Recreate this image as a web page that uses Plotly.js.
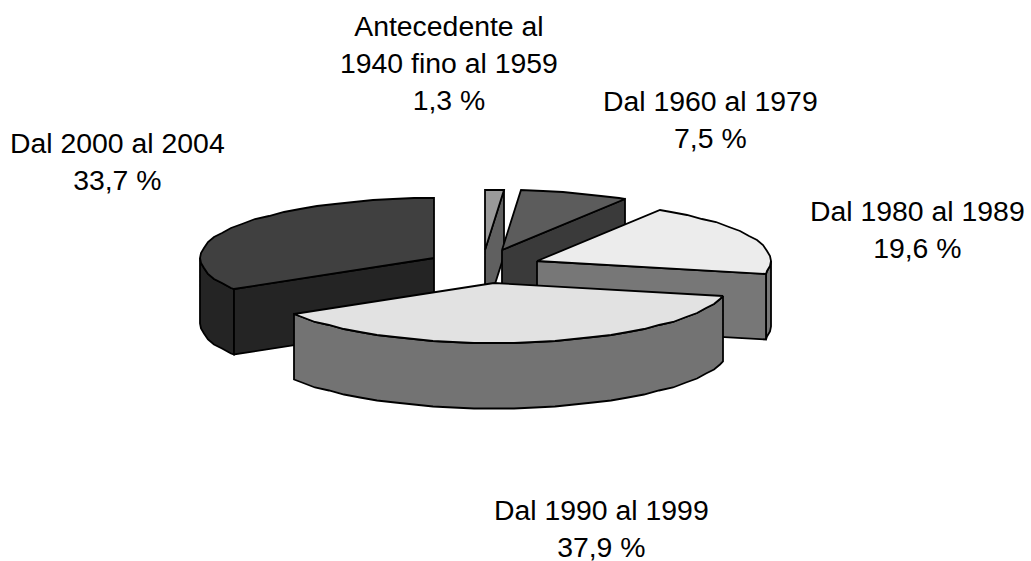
<!DOCTYPE html>
<html>
<head>
<meta charset="utf-8">
<script src="https://cdn.plot.ly/plotly-3.0.1.min.js"></script>
<style>html,body{margin:0;padding:0;background:#fff}#chart{width:1031px;height:561px}</style>
</head>
<body>
<div id="chart"></div>
<script>
// Data
const categories = ["Antecedente al<br>1940 fino al 1959", "Dal 1960 al 1979", "Dal 1980 al 1989", "Dal 1990 al 1999", "Dal 2000 al 2004"];
const percentages = [1.3, 7.5, 19.6, 37.9, 33.7];

// Style and placement (kept apart from the data)
const topColors  = ["#9a9a9a", "#5c5c5c", "#ececec", "#e2e2e2", "#404040"];
const wallColors = ["#606060", "#3a3a3a", "#777777", "#737373", "#242424"];
const apexX = [485, 502, 537, 494, 434];
const apexY = [250, 250, 261, 283, 258];
const labelX = [449, 710.5, 917.5, 601, 117.5];
const labelY = [63, 119.5, 229, 528, 161];
const RX = 234, RY = 60, DEPTH = 65.5, STEP = 5;
const drawOrder = [0, 1, 2, 4, 3];

const traces = [];
function poly(xs, ys, fill) {
  traces.push({
    type: "scatter", mode: "lines", x: xs.concat(xs[0]), y: ys.concat(ys[0]),
    fill: "toself", fillcolor: fill, hoverinfo: "skip",
    line: {color: "#000", width: 1.8, simplify: false}
  });
}
function arcAngles(a, b) {
  const out = [a];
  let t = Math.ceil(a / STEP + 0.2) * STEP;
  while (t < b - 0.5) { out.push(t); t += STEP; }
  out.push(b);
  return out;
}
const total = percentages.reduce((s, v) => s + v, 0);
let cumulative = 0;
const spans = percentages.map(v => {
  const a = cumulative / total * 360;
  cumulative += v;
  return [a, cumulative / total * 360];
});

drawOrder.forEach(i => {
  const [a, b] = spans[i];
  const px = t => Math.round(apexX[i] + RX * Math.sin(t * Math.PI / 180));
  const py = t => Math.round(apexY[i] - RY * Math.cos(t * Math.PI / 180));
  // outer wall: only the part of the rim that faces the viewer
  const wa = Math.max(a, 90), wb = Math.min(b, 270);
  if (wb > wa) {
    const ts = arcAngles(wa, wb);
    const xs = ts.map(px), ys = ts.map(py);
    poly(xs.concat(xs.slice().reverse()),
         ys.concat(ys.slice().reverse().map(y => y + DEPTH)), wallColors[i]);
  }
  // cut faces that face the viewer
  [[a, Math.sin(a * Math.PI / 180) < -1e-6], [b, Math.sin(b * Math.PI / 180) > 1e-6]].forEach(([t, show]) => {
    if (!show) return;
    poly([apexX[i], px(t), px(t), apexX[i]],
         [apexY[i], py(t), py(t) + DEPTH, apexY[i] + DEPTH], wallColors[i]);
  });
  // top face
  const ts = arcAngles(a, b);
  poly([apexX[i]].concat(ts.map(px)), [apexY[i]].concat(ts.map(py)), topColors[i]);
});

const annotations = categories.map((c, i) => ({
  xref: "x", yref: "y", x: labelX[i], y: labelY[i],
  xanchor: "center", yanchor: "middle", align: "center", showarrow: false,
  text: c + "<br>" + percentages[i].toFixed(1).replace(".", ",") + " %",
  font: {family: "Liberation Sans, Arial, sans-serif", size: 28.4, color: "#000"}
}));

Plotly.newPlot("chart", traces, {
  width: 1031, height: 561, showlegend: false,
  margin: {l: 0, r: 0, t: 0, b: 0},
  paper_bgcolor: "#fff", plot_bgcolor: "#fff",
  xaxis: {range: [0, 1031], visible: false, fixedrange: true},
  yaxis: {range: [561, 0], visible: false, fixedrange: true},
  annotations: annotations
}, {displayModeBar: false, staticPlot: true});
</script>
</body>
</html>
